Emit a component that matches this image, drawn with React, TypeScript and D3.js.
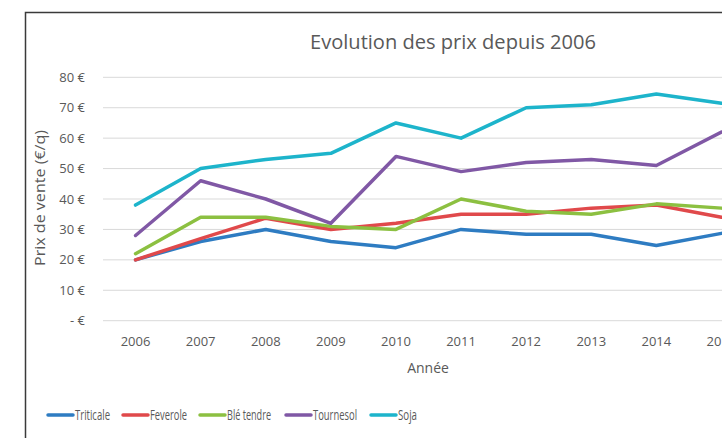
import React, { useRef, useEffect } from "react";
import * as d3 from "d3";

const years = ["2006", "2007", "2008", "2009", "2010", "2011", "2012", "2013", "2014", "2015"];
const triticale = [20, 26, 30, 26, 24, 30, 28.4, 28.4, 24.7, 28.7];
const feverole = [20, 27, 33.7, 30, 32, 35, 35, 37, 38, 34];
const bleTendre = [22, 34, 34, 31, 30, 40, 36, 35, 38.4, 37];
const tournesol = [28, 46, 40, 32, 54, 49, 52, 53, 51, 62];
const soja = [38, 50, 53, 55, 65, 60, 70, 71, 74.5, 71.5];
const seriesNames = ["Triticale", "Feverole", "Blé tendre", "Tournesol", "Soja"];
const seriesColors = ["#2e7cc2", "#e0494b", "#8cc041", "#8058a5", "#1db4cb"];
const yTicks = [0, 10, 20, 30, 40, 50, 60, 70, 80];

const font = "'Open Sans', sans-serif";

const App = () => {
    const ref = useRef(null);

    useEffect(() => {
        const svg = d3.select(ref.current);
        svg.selectAll("*").remove();

        const x = d3.scaleBand()
            .domain(years)
            .range([103, 754]); // runs past the window, like the cropped screenshot

        const y = d3.scaleLinear()
            .domain([0, 80])
            .range([320.7, 77.3]);

        // frame
        svg.append("path")
            .attr("d", "M25.5,438 L25.5,12.5 L722,12.5")
            .attr("fill", "none")
            .attr("stroke", "#3a3a3a")
            .attr("stroke-width", 1.5);

        // gridlines
        svg.append("g")
            .selectAll("line")
            .data(yTicks)
            .join("line")
            .attr("x1", 103)
            .attr("x2", 754)
            .attr("y1", d => y(d))
            .attr("y2", d => y(d))
            .attr("stroke", "#d9d9d9")
            .attr("stroke-width", 1);

        // y tick labels
        svg.append("g")
            .selectAll("text")
            .data(yTicks)
            .join("text")
            .attr("x", 85)
            .attr("y", d => y(d))
            .attr("dy", "0.35em")
            .attr("text-anchor", "end")
            .attr("font-family", font)
            .attr("font-size", 13)
            .attr("fill", "#595959")
            .text(d => (d === 0 ? "-   €" : `${d} €`));

        // x tick labels
        svg.append("g")
            .selectAll("text")
            .data(years)
            .join("text")
            .attr("x", d => x(d) + x.bandwidth() / 2)
            .attr("y", 341)
            .attr("dy", "0.35em")
            .attr("text-anchor", "middle")
            .attr("font-family", font)
            .attr("font-size", 13)
            .attr("fill", "#595959")
            .text(d => d);

        // axis titles
        svg.append("text")
            .attr("x", 428)
            .attr("y", 368)
            .attr("dy", "0.35em")
            .attr("text-anchor", "middle")
            .attr("font-family", font)
            .attr("font-size", 14)
            .attr("fill", "#595959")
            .text("Année");

        svg.append("text")
            .attr("transform", "translate(40,198) rotate(-90)")
            .attr("dy", "0.35em")
            .attr("text-anchor", "middle")
            .attr("font-family", font)
            .attr("font-size", 15)
            .attr("fill", "#595959")
            .attr("textLength", 136)
            .attr("lengthAdjust", "spacingAndGlyphs")
            .text("Prix de vente (€/q)");

        // title
        svg.append("text")
            .attr("x", 453)
            .attr("y", 42)
            .attr("dy", "0.35em")
            .attr("text-anchor", "middle")
            .attr("font-family", font)
            .attr("font-size", 20)
            .attr("fill", "#595959")
            .attr("textLength", 286)
            .attr("lengthAdjust", "spacingAndGlyphs")
            .text("Evolution des prix depuis 2006");

        // lines
        const allSeries = [triticale, feverole, bleTendre, tournesol, soja];
        const line = d3.line<number>()
            .x((d, i) => x(years[i]) + x.bandwidth() / 2)
            .y(d => y(d));

        svg.append("g")
            .selectAll("path")
            .data(allSeries)
            .join("path")
            .attr("d", d => line(d))
            .attr("fill", "none")
            .attr("stroke", (d, i) => seriesColors[i])
            .attr("stroke-width", 3.5)
            .attr("stroke-linejoin", "round")
            .attr("stroke-linecap", "round");

        // legend (Calibri-like narrow labels, so squeeze the text)
        const legendX = [48, 123, 200, 286, 371];
        const legendTextW = [35, 37, 44, 44, 19];
        const legend = svg.append("g")
            .selectAll("g")
            .data(seriesNames)
            .join("g")
            .attr("transform", (d, i) => `translate(${legendX[i]},415)`);

        legend.append("line")
            .attr("x1", 0)
            .attr("x2", 25)
            .attr("stroke", (d, i) => seriesColors[i])
            .attr("stroke-width", 3.5)
            .attr("stroke-linecap", "round");

        legend.append("text")
            .attr("x", 27)
            .attr("dy", "0.35em")
            .attr("font-family", font)
            .attr("font-size", 14)
            .attr("fill", "#595959")
            .attr("textLength", (d, i) => legendTextW[i])
            .attr("lengthAdjust", "spacingAndGlyphs")
            .text(d => d);
    }, []);

    return (
        <svg
            ref={ref}
            width={722}
            height={438}
            style={{ position: "absolute", left: 0, top: 0, background: "#fff" }}
        />
    );
};

export default App;
